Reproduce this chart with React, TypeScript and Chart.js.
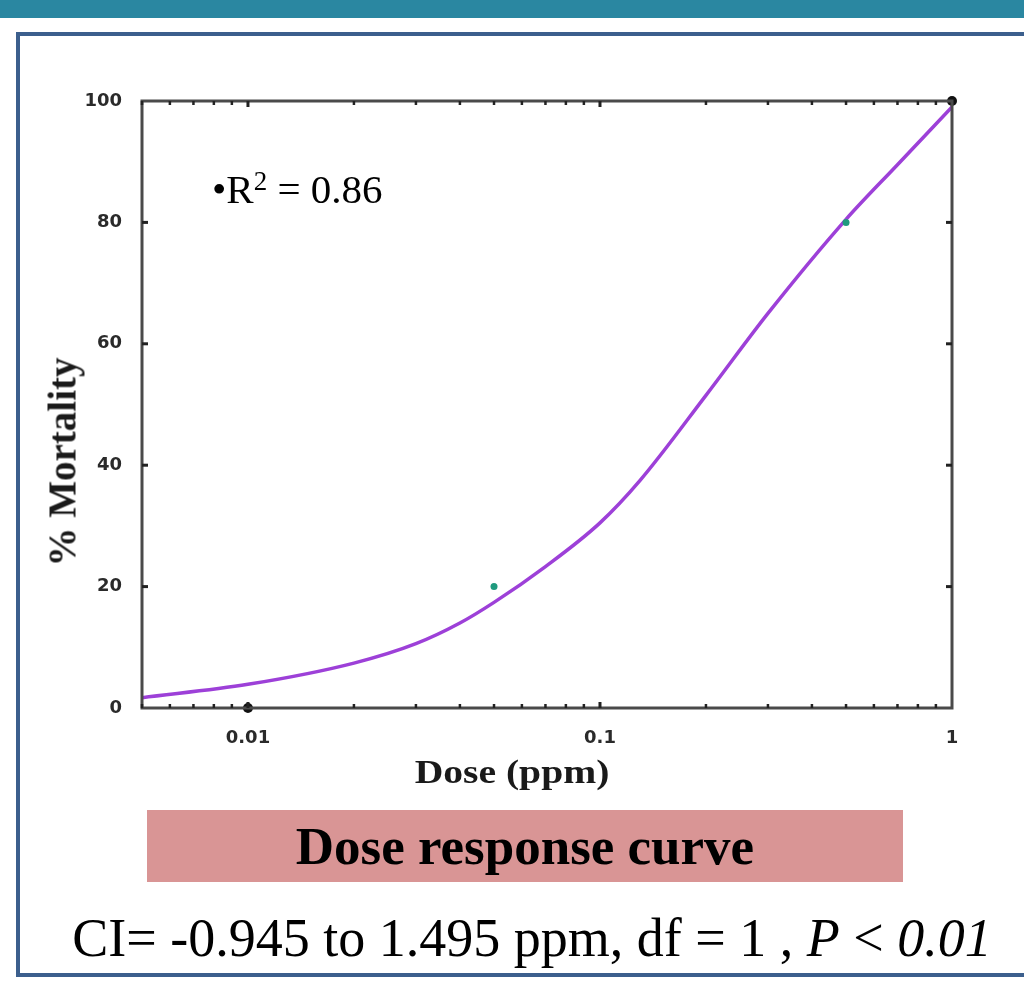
import React, { useEffect, useRef } from "react";
import { Chart, registerables } from "chart.js";

Chart.register(...registerables);

// ---- data ----
const curveDose = [0.005, 0.01, 0.02, 0.03, 0.04, 0.05, 0.07, 0.1, 0.13, 0.2, 0.3, 0.5, 0.7, 1];
const curveMortality = [1.7, 3.9, 7.4, 10.6, 14.0, 17.4, 23.3, 30.5, 37.5, 51.5, 65, 80.5, 89.5, 99];

const pointDose = [0.01, 0.05, 0.5, 1];
const pointMortality = [0, 20, 80, 100];
const pointColors = ["#111111", "#1f9a7e", "#1f9a7e", "#111111"];
const pointRadius = [5, 3.5, 3.5, 5];

const xTickValues = [0.01, 0.1, 1];
const xTickLabels = ["0.01", "0.1", "1"];
const yTickValues = [0, 20, 40, 60, 80, 100];
const xMin = 0.005;
const xMax = 1;

const framePlugin = {
  id: "frameTicks",
  afterDraw(chart: any) {
    const { ctx, chartArea } = chart;
    const xs = chart.scales.x;
    const ys = chart.scales.y;
    ctx.save();
    ctx.strokeStyle = "#4a4a4a";
    ctx.lineWidth = 3;
    ctx.strokeRect(chartArea.left, chartArea.top, chartArea.right - chartArea.left, chartArea.bottom - chartArea.top);
    ctx.fillStyle = "#222";
    for (const d of [0.001, 0.01, 0.1]) {
      for (let m = 1; m <= 9; m++) {
        const v = m * d;
        if (v < xMin || v > xMax) continue;
        const px = xs.getPixelForValue(v);
        const w = m === 1 ? 3 : 2.5;
        const h = m === 1 ? 6 : 4;
        ctx.fillRect(px - w / 2, chartArea.bottom - h, w, h);
        ctx.fillRect(px - w / 2, chartArea.top, w, h);
      }
    }
    for (const v of yTickValues) {
      if (v === 0 || v === 100) continue;
      const py = ys.getPixelForValue(v);
      ctx.fillRect(chartArea.left, py - 1.5, 6, 3);
      ctx.fillRect(chartArea.right - 6, py - 1.5, 6, 3);
    }
    ctx.restore();
  },
};

export default function App() {
  const canvasRef = useRef<HTMLCanvasElement | null>(null);

  useEffect(() => {
    if (!canvasRef.current) return;
    const chart = new Chart(canvasRef.current, {
      type: "scatter",
      data: {
        datasets: [
          {
            type: "line",
            label: "fit",
            data: curveDose.map((d, i) => ({ x: d, y: curveMortality[i] })),
            borderColor: "#9d40d8",
            borderWidth: 3.5,
            pointRadius: 0,
            cubicInterpolationMode: "monotone",
            fill: false,
            order: 2,
          } as any,
          {
            type: "scatter",
            label: "observed",
            data: pointDose.map((d, i) => ({ x: d, y: pointMortality[i] })),
            backgroundColor: pointColors,
            borderColor: pointColors,
            pointRadius: pointRadius,
            borderWidth: 0,
            clip: false,
            order: 1,
          } as any,
        ],
      },
      options: {
        animation: false,
        responsive: true,
        maintainAspectRatio: false,
        layout: { padding: { top: 31, right: 38, left: 0, bottom: 0 } },
        plugins: { legend: { display: false }, tooltip: { enabled: false }, title: { display: false } },
        scales: {
          x: {
            type: "logarithmic",
            min: xMin,
            max: xMax,
            grid: { display: false, drawTicks: false },
            border: { display: false },
            afterBuildTicks: (scale: any) => {
              scale.ticks = xTickValues.map((v) => ({ value: v }));
            },
            afterFit: (scale: any) => {
              scale.height = 102;
            },
            ticks: {
              autoSkip: false,
              maxRotation: 0,
              padding: 20,
              color: "#2a2a2a",
              font: { family: "DejaVu Sans", weight: "bold", size: 18 },
              callback: (value: any) => {
                const idx = xTickValues.indexOf(Number(value));
                return idx >= 0 ? xTickLabels[idx] : "";
              },
            },
          },
          y: {
            type: "linear",
            min: 0,
            max: 100,
            grid: { display: false, drawTicks: false },
            border: { display: false },
            afterBuildTicks: (scale: any) => {
              scale.ticks = yTickValues.map((v) => ({ value: v }));
            },
            afterFit: (scale: any) => {
              scale.width = 112;
            },
            ticks: {
              padding: 20,
              color: "#2a2a2a",
              font: { family: "DejaVu Sans", weight: "bold", size: 18 },
            },
          },
        },
      },
      plugins: [framePlugin],
    });
    return () => chart.destroy();
  }, []);

  const serif = "'Liberation Serif', 'Times New Roman', serif";

  return (
    <div
      style={{
        position: "absolute",
        left: 0,
        top: 0,
        width: 1024,
        height: 982,
        overflow: "hidden",
        background: "#ffffff",
        fontFamily: serif,
      }}
    >
      <div style={{ position: "absolute", left: 0, top: 0, width: 1024, height: 18, background: "#2a87a1" }} />
      <div
        style={{
          position: "absolute",
          left: 16,
          top: 32,
          width: 1030,
          height: 945,
          border: "4px solid #3c5f8d",
          boxSizing: "border-box",
        }}
      />
      <div style={{ position: "absolute", left: 30, top: 70, width: 960, height: 740 }}>
        <canvas ref={canvasRef} />
      </div>
      <div
        style={{
          position: "absolute",
          left: 212,
          top: 166,
          fontSize: 41,
          lineHeight: "46px",
          color: "#000",
          whiteSpace: "nowrap",
        }}
      >
        •R<sup style={{ fontSize: 27, verticalAlign: "top", lineHeight: "30px" }}>2</sup> = 0.86
      </div>
      <div
        style={{
          position: "absolute",
          left: 62,
          top: 462,
          transform: "translate(-50%, -50%) rotate(-90deg)",
          fontSize: 39,
          fontWeight: "bold",
          color: "#1a1a1a",
          whiteSpace: "nowrap",
        }}
      >
        % Mortality
      </div>
      <div
        style={{
          position: "absolute",
          left: 512,
          top: 772,
          transform: "translate(-50%, -50%) scaleX(1.2)",
          fontSize: 33,
          fontWeight: "bold",
          color: "#1a1a1a",
          whiteSpace: "nowrap",
        }}
      >
        Dose (ppm)
      </div>
      <div
        style={{
          position: "absolute",
          left: 147,
          top: 810,
          width: 756,
          height: 72,
          background: "#d99595",
          display: "flex",
          alignItems: "center",
          justifyContent: "center",
          fontSize: 53,
          fontWeight: "bold",
          color: "#000",
          whiteSpace: "nowrap",
        }}
      >
        Dose response curve
      </div>
      <div
        style={{
          position: "absolute",
          left: 532,
          top: 938,
          transform: "translate(-50%, -50%)",
          fontSize: 54,
          color: "#000",
          whiteSpace: "nowrap",
        }}
      >
        CI= -0.945 to 1.495 ppm, df = 1 , <i>P</i> &lt; <i>0.01</i>
      </div>
    </div>
  );
}
